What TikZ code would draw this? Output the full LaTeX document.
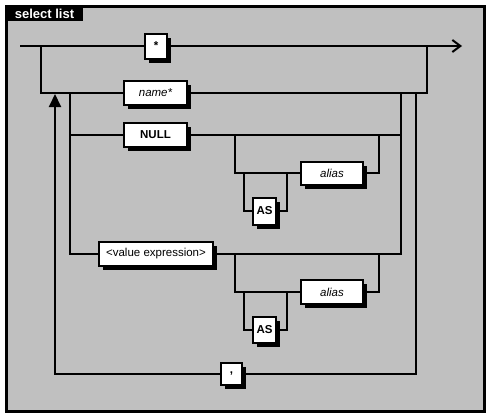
\documentclass[tikz,border=0pt]{standalone}
\usepackage{fontspec}
\setmainfont{Liberation Sans}
\usetikzlibrary{arrows.meta, shadows}

\definecolor{panelgray}{RGB}{192,192,192}

\begin{document}
\begin{tikzpicture}[
        x=1pt, y=-1pt,
        rail/.style={line width=2pt},
        term/.style={draw, line width=2pt, fill=white, inner sep=0pt,
            minimum height=24pt,
            general shadow={fill=black, shadow xshift=4pt, shadow yshift=-4pt}},
        every node/.style={font=\fontsize{11.5}{13}\selectfont}
    ]

    % --- Frame and title ---
    \useasboundingbox (0,0) rectangle (490,418);
    \fill[white] (0,0) rectangle (490,418);
    \draw[line width=3pt, fill=panelgray] (6.5,6.5) rectangle (484.5,411.5);
    \fill[black] (5,5) rectangle (83,21);
    \node[text=white, font=\fontsize{13}{15}\bfseries] (title) at (44.5,13.5) {select list};

    % --- Terminal boxes ---
    \node[term, minimum width=22pt, minimum height=25pt] (star) at (156,46) {\bfseries *};
    \node[term, minimum width=63pt] (name) at (155.5,93) {\itshape name*};
    \node[term, minimum width=63pt] (null) at (155.5,135) {\bfseries NULL};
    \node[term, minimum width=62pt, minimum height=23pt] (alias1) at (332,173) {\itshape alias};
    \node[term, minimum width=23pt, minimum height=27pt] (as1) at (264.5,211) {\bfseries AS};
    \node[term, minimum width=114pt] (value) at (156,254) {<value expression>};
    \node[term, minimum width=62pt] (alias2) at (332,292) {\itshape alias};
    \node[term, minimum width=23pt, minimum height=26pt] (as2) at (264.5,330) {\bfseries AS};
    \node[term, minimum width=21pt, minimum height=22pt] (comma) at (231.5,374) {\bfseries ,};

    % --- Junction points ---
    \coordinate (start) at (20,46);
    \coordinate (end) at (462,46);
    \coordinate (skipL) at (41,46);
    \coordinate (skipR) at (427,46);
    \coordinate (itemL) at (70,93);
    \coordinate (itemR) at (401,93);
    \coordinate (loopL) at (55,93);
    \coordinate (loopR) at (416,93);
    \coordinate (optA1) at (235,135);
    \coordinate (optB1) at (379,135);
    \coordinate (optC1) at (244,173);
    \coordinate (optD1) at (287,173);
    \coordinate (optA2) at (235,254);
    \coordinate (optB2) at (379,254);
    \coordinate (optC2) at (244,292);
    \coordinate (optD2) at (287,292);

    % --- Main line ---
    \draw[rail] (start) -- (star.west);
    \draw[rail, -{Straight Barb[length=8pt, width=12pt]}] (star.east) -- (end);

    % --- Items ---
    \draw[rail] (skipL) |- (name.west);
    \draw[rail] (name.east) -| (skipR);
    \draw[rail] (itemL) |- (null.west);
    \draw[rail] (itemL) |- (value.west);
    \draw[rail] (null.east) -| (itemR);
    \draw[rail] (value.east) -| (itemR);

    % --- Optional alias after NULL ---
    \draw[rail] (optA1) |- (alias1.west);
    \draw[rail] (alias1.east) -| (optB1);
    \draw[rail] (optC1) |- (as1.west);
    \draw[rail] (as1.east) -| (optD1);

    % --- Optional alias after value expression ---
    \draw[rail] (optA2) |- (alias2.west);
    \draw[rail] (alias2.east) -| (optB2);
    \draw[rail] (optC2) |- (as2.west);
    \draw[rail] (as2.east) -| (optD2);

    % --- Repeat with comma ---
    \draw[rail] (loopR) |- (comma.east);
    \draw[rail, -{Triangle[length=13pt, width=12pt]}] (comma.west) -| ([yshift=-1pt]loopL);

\end{tikzpicture}
\end{document}
